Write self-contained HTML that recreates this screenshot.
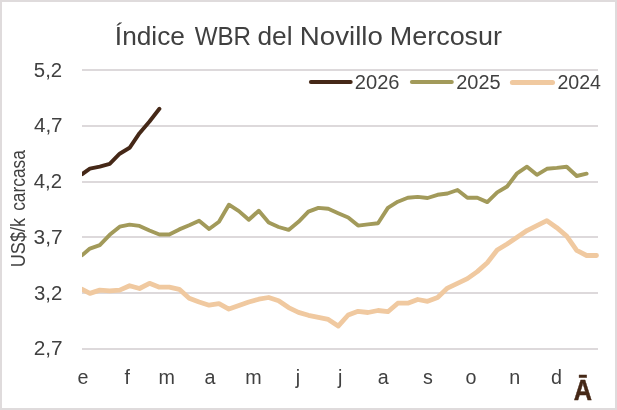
<!DOCTYPE html>
<html lang="es">
<head>
<meta charset="utf-8">
<title>Índice WBR del Novillo Mercosur</title>
<style>
html,body{margin:0;padding:0;background:#fff;}
body{width:617px;height:410px;overflow:hidden;}
svg{display:block;}
text{font-family:"Liberation Sans",sans-serif;}
</style>
</head>
<body>
<svg width="617" height="410" viewBox="0 0 617 410">
<rect x="0" y="0" width="617" height="410" fill="#ffffff"/>
<rect x="1" y="1" width="615" height="408" fill="none" stroke="#dfdbdc" stroke-width="2"/>
<g stroke="#ddd9db" stroke-width="2" fill="none">
<line x1="82" y1="70" x2="598" y2="70"/>
<line x1="82" y1="126" x2="598" y2="126"/>
<line x1="82" y1="182" x2="598" y2="182"/>
<line x1="82" y1="237" x2="598" y2="237"/>
<line x1="82" y1="293" x2="598" y2="293"/>
<line x1="82" y1="349" x2="598" y2="349"/>
</g>
<text transform="translate(24.6,267.2) rotate(-90)" font-size="19.7" fill="#404040" textLength="49.2" lengthAdjust="spacingAndGlyphs">US$/k</text>
<text transform="translate(24.6,210.8) rotate(-90)" font-size="19.7" fill="#404040" textLength="60.6" lengthAdjust="spacingAndGlyphs">carcasa</text>
<text x="114.88" y="45.0" font-size="25.4" fill="#404040" textLength="70.05" lengthAdjust="spacingAndGlyphs">Índice</text>
<text x="194.65" y="45.0" font-size="25.4" fill="#404040" textLength="56.40" lengthAdjust="spacingAndGlyphs">WBR</text>
<text x="257.54" y="45.0" font-size="25.4" fill="#404040" textLength="35.01" lengthAdjust="spacingAndGlyphs">del</text>
<text x="299.89" y="45.0" font-size="25.4" fill="#404040" textLength="82.96" lengthAdjust="spacingAndGlyphs">Novillo</text>
<text x="389.77" y="45.0" font-size="25.4" fill="#404040" textLength="112.29" lengthAdjust="spacingAndGlyphs">Mercosur</text>
<text x="354.77" y="88.8" font-size="19.7" fill="#404040" textLength="44.81" lengthAdjust="spacingAndGlyphs">2026</text>
<text x="456.25" y="88.8" font-size="19.7" fill="#404040" textLength="44.35" lengthAdjust="spacingAndGlyphs">2025</text>
<text x="557.45" y="88.8" font-size="19.7" fill="#404040" textLength="43.56" lengthAdjust="spacingAndGlyphs">2024</text>
<text x="33.85" y="77.1" font-size="19.7" fill="#404040" textLength="28.34" lengthAdjust="spacingAndGlyphs">5,2</text>
<text x="33.93" y="132.1" font-size="19.7" fill="#404040" textLength="28.66" lengthAdjust="spacingAndGlyphs">4,7</text>
<text x="33.75" y="188.1" font-size="19.7" fill="#404040" textLength="28.32" lengthAdjust="spacingAndGlyphs">4,2</text>
<text x="33.57" y="244.1" font-size="19.7" fill="#404040" textLength="29.05" lengthAdjust="spacingAndGlyphs">3,7</text>
<text x="33.95" y="300.1" font-size="19.7" fill="#404040" textLength="28.35" lengthAdjust="spacingAndGlyphs">3,2</text>
<text x="33.65" y="355.1" font-size="19.7" fill="#404040" textLength="28.93" lengthAdjust="spacingAndGlyphs">2,7</text>
<text x="573.87" y="399.5" font-size="28.6" fill="#452817" font-weight="bold" stroke="#452817" stroke-width="0.5" stroke-linejoin="round" textLength="18.26" lengthAdjust="spacingAndGlyphs">Ā</text>
<text x="83.03" y="384.1" font-size="19.7" fill="#404040" text-anchor="middle">e</text>
<text x="127.36" y="384.1" font-size="19.7" fill="#404040" text-anchor="middle">f</text>
<text x="166.63" y="384.1" font-size="19.7" fill="#404040" text-anchor="middle">m</text>
<text x="210.05" y="384.1" font-size="19.7" fill="#404040" text-anchor="middle">a</text>
<text x="253.54" y="384.1" font-size="19.7" fill="#404040" text-anchor="middle">m</text>
<text x="298.04" y="384.1" font-size="19.7" fill="#404040" text-anchor="middle">j</text>
<text x="340.25" y="384.1" font-size="19.7" fill="#404040" text-anchor="middle">j</text>
<text x="383.35" y="384.1" font-size="19.7" fill="#404040" text-anchor="middle">a</text>
<text x="427.81" y="384.1" font-size="19.7" fill="#404040" text-anchor="middle">s</text>
<text x="470.90" y="384.1" font-size="19.7" fill="#404040" text-anchor="middle">o</text>
<text x="514.62" y="384.1" font-size="19.7" fill="#404040" text-anchor="middle">n</text>
<text x="556.51" y="384.1" font-size="19.7" fill="#404040" text-anchor="middle">d</text>
<line x1="310.90" y1="82.0" x2="350.70" y2="82.0" stroke="#452817" stroke-width="4.0" stroke-linecap="round"/>
<line x1="411.90" y1="82.0" x2="451.80" y2="82.0" stroke="#a29a5a" stroke-width="4.0" stroke-linecap="round"/>
<line x1="512.40" y1="82.45" x2="552.50" y2="82.45" stroke="#f0c9a0" stroke-width="5.0" stroke-linecap="round"/>
<defs><clipPath id="plotclip"><rect x="82.1" y="50" width="530" height="310"/></clipPath></defs>
<g fill="none" stroke-linecap="round" stroke-linejoin="round" clip-path="url(#plotclip)">
<polyline stroke="#f0c9a0" stroke-width="4.8" points="82.2,289.3 89.9,293.4 99.8,290.1 109.7,290.9 119.7,290.1 129.6,285.7 139.5,288.5 149.5,283.3 159.4,287.2 169.3,287.2 179.3,289.3 189.2,298.2 199.1,302.0 209.1,305.2 219.0,303.6 228.9,309.1 238.9,305.5 248.8,302.0 258.8,299.2 268.7,297.5 278.6,300.7 288.6,307.6 298.5,312.4 308.4,315.3 318.4,317.3 328.3,319.4 338.2,326.1 348.2,315.0 358.1,311.3 368.0,312.5 378.0,310.5 387.9,311.7 397.8,303.2 407.8,303.2 417.7,299.5 427.6,301.3 437.6,297.5 447.5,288.1 457.5,283.4 467.4,278.6 477.3,271.6 487.3,262.7 497.2,250.0 507.1,244.0 517.1,237.3 527.0,230.6 536.9,225.7 546.9,220.7 556.8,227.7 566.7,236.1 576.7,250.4 586.6,255.5 596.5,255.5"/>
<polyline stroke="#a29a5a" stroke-width="3.9" points="82.2,255.1 89.9,248.6 99.8,245.1 109.7,234.8 119.7,226.7 129.6,224.6 139.5,225.9 149.5,230.5 159.4,234.5 169.3,234.5 179.3,229.4 189.2,225.3 199.1,220.7 209.1,229.0 219.0,221.7 228.9,204.7 238.9,211.1 248.8,219.8 258.8,210.7 268.7,222.5 278.6,227.0 288.6,229.9 298.5,221.8 308.4,211.6 318.4,207.9 328.3,208.8 338.2,213.2 348.2,217.5 358.1,225.6 368.0,224.4 378.0,223.3 387.9,207.9 397.8,201.7 407.8,197.7 417.7,196.9 427.6,198.0 437.6,194.8 447.5,193.5 457.5,190.0 467.4,197.8 477.3,197.8 487.3,202.1 497.2,192.4 507.1,186.5 517.1,173.3 527.0,166.7 536.9,174.8 546.9,168.8 556.8,167.9 566.7,166.7 576.7,176.0 586.6,173.7"/>
<polyline stroke="#452817" stroke-width="3.9" points="82.2,174.1 89.9,168.7 99.8,166.7 109.7,163.8 119.7,153.7 129.6,147.8 139.5,133.2 149.5,121.5 159.4,108.8"/>
</g>
</svg>
</body>
</html>
